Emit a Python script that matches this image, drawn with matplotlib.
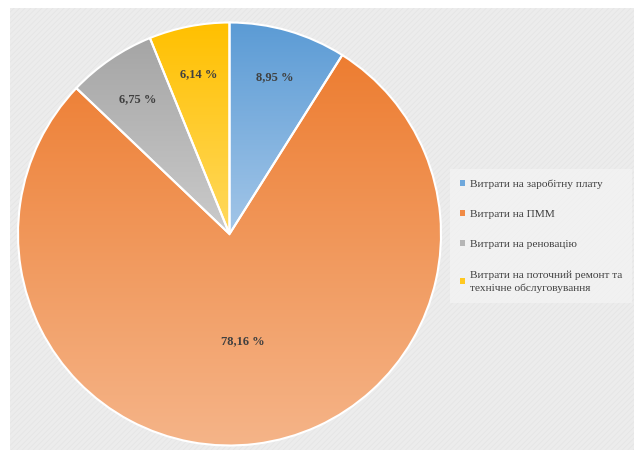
import numpy as np
import matplotlib
matplotlib.use("Agg")
import matplotlib.pyplot as plt
from matplotlib.patches import Rectangle, Patch
from matplotlib.colors import LinearSegmentedColormap

categories = ["Витрати на заробітну плату", "Витрати на ПММ", "Витрати на реновацію",
              "Витрати на поточний ремонт та\nтехнічне обслуговування"]
values = [8.95, 78.16, 6.75, 6.14]
value_labels = ["8,95 %", "78,16 %", "6,75 %", "6,14 %"]
top_colors = ["#5b9bd5", "#ed7d31", "#a5a5a5", "#ffc000"]
bottom_colors = ["#a3c6e8", "#f5b488", "#cbcbcb", "#ffd95e"]
legend_colors = ["#6fa8dc", "#f08a45", "#b5b5b5", "#ffc820"]
label_dist = [0.77, 0.51, 0.77, 0.77]

plt.rcParams["font.family"] = ["Liberation Serif", "DejaVu Serif"]
plt.rcParams["hatch.linewidth"] = 0.5

fig = plt.figure(figsize=(6.34, 4.5), dpi=100)
fig.patch.set_facecolor("white")
bg = Rectangle((10 / 634, 0), 1 - 10 / 634, 1 - 8 / 450, transform=fig.transFigure,
               facecolor="#ececec", edgecolor="#e4e4e4", hatch="//////", linewidth=0, zorder=-5)
fig.add_artist(bg)

ax = fig.add_axes([18 / 634, 4.5 / 450, 423 / 634, 423 / 450])
ax.set_zorder(1)
ax.set_facecolor("none")
wedges, _ = ax.pie(values, startangle=90, counterclock=False, radius=1,
                   wedgeprops=dict(edgecolor="white", linewidth=1.5))
ax.set_aspect("equal")
ax.axis("off")

for w, tc, bc in zip(wedges, top_colors, bottom_colors):
    ext = w.get_path().get_extents(w.get_patch_transform())
    cmap = LinearSegmentedColormap.from_list("g", [bc, tc])
    grad = np.linspace(0, 1, 256).reshape(-1, 1)
    im = ax.imshow(grad, cmap=cmap, origin="lower", aspect="auto",
                   extent=[ext.x0, ext.x1, ext.y0, ext.y1], zorder=1)
    im.set_clip_path(w)
    w.set_facecolor("none")
    w.set_zorder(2)

ax.set_xlim(-1.0, 1.0)
ax.set_ylim(-1.0, 1.0)

total = sum(values)
start = 90.0
for v, lab, d in zip(values, value_labels, label_dist):
    span = v / total * 360
    mid = np.deg2rad(start - span / 2)
    start -= span
    ax.text(d * np.cos(mid), d * np.sin(mid), lab, ha="center", va="center",
            fontsize=9, fontweight="bold", color="#404040", zorder=3)

handles = [Patch(facecolor=c, edgecolor="none") for c in legend_colors]
leg = fig.legend(handles, categories, loc="center left", bbox_to_anchor=(444 / 634, 1 - 236 / 450),
                 frameon=True, fontsize=8.2, handlelength=0.45, handleheight=0.45,
                 handletextpad=0.4, labelspacing=1.85, borderpad=0.9, labelcolor="#404040")
for t in leg.get_texts():
    t.set_linespacing(1.45)
leg.get_frame().set_facecolor("#f4f4f4")
leg.get_frame().set_edgecolor("none")
leg.get_frame().set_alpha(0.7)
leg.get_frame().set_boxstyle("square", pad=0)
leg.set_zorder(5)

fig.savefig("out.png", dpi=100)
